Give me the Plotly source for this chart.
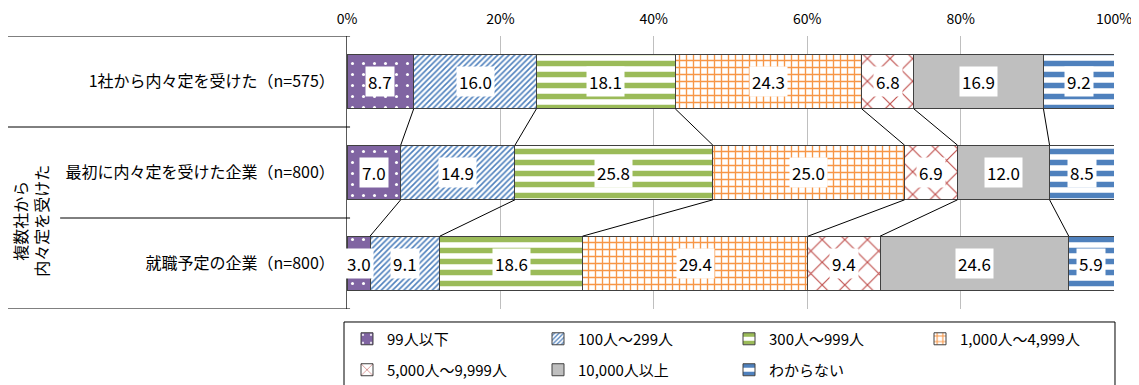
import plotly.graph_objects as go

# ---- data ----
categories = ["1社から内々定を受けた（n=575）",
              "最初に内々定を受けた企業（n=800）",
              "就職予定の企業（n=800）"]
series_names = ["99人以下", "100人～299人", "300人～999人", "1,000人～4,999人",
                "5,000人～9,999人", "10,000人以上", "わからない"]
v_99 = [8.7, 7.0, 3.0]
v_100 = [16.0, 14.9, 9.1]
v_300 = [18.1, 25.8, 18.6]
v_1000 = [24.3, 25.0, 29.4]
v_5000 = [6.8, 6.9, 9.4]
v_10000 = [16.9, 12.0, 24.6]
v_unknown = [9.2, 8.5, 5.9]
x_ticks = [0, 20, 40, 60, 80, 100]
x_tick_labels = ["0%", "20%", "40%", "60%", "80%", "100%"]
group_label = "複数社から<br>内々定を受けた"

series_values = [v_99, v_100, v_300, v_1000, v_5000, v_10000, v_unknown]

# ---- styles ----
FONT = "Noto Sans CJK JP, Noto Sans, sans-serif"
patterns = [
    dict(shape=".", bgcolor="#8064A2", fgcolor="#FFFFFF", size=11, solidity=0.06, fillmode="replace"),
    dict(shape="/", bgcolor="#FFFFFF", fgcolor="#4F81BD", size=4, solidity=0.4, fillmode="replace"),
    dict(shape="-", bgcolor="#FFFFFF", fgcolor="#9BBB59", size=11, solidity=0.5, fillmode="replace"),
    dict(shape="+", bgcolor="#FFFFFF", fgcolor="#F79646", size=7, solidity=0.35, fillmode="replace"),
    dict(shape="x", bgcolor="#FFFFFF", fgcolor="#C0504D", size=16, solidity=0.14, fillmode="replace"),
    None,
    dict(shape="-", bgcolor="#FFFFFF", fgcolor="#4F81BD", size=11, solidity=0.5, fillmode="replace"),
]
colors = ["#8064A2", "#4F81BD", "#9BBB59", "#F79646", "#C0504D", "#BFBFBF", "#4F81BD"]
legend_of = ["legend", "legend", "legend", "legend", "legend2", "legend2", "legend2"]
BAR_W = 0.6

fig = go.Figure()
for name, vals, pat, col, lg in zip(series_names, series_values, patterns, colors, legend_of):
    marker = dict(color=col, line=dict(color="#404040", width=1))
    if pat is not None:
        marker["pattern"] = pat
    fig.add_trace(go.Bar(
        name=name, y=categories, x=vals, orientation="h", legend=lg,
        marker=marker, width=BAR_W, hoverinfo="x+name"))

# cumulative positions
n_cat = len(categories)
cum = []
for ci in range(n_cat):
    acc, row = 0.0, []
    for vals in series_values:
        row.append(acc)
        acc += vals[ci]
    row.append(acc)
    cum.append(row)

# connector lines between consecutive bars
for ci in range(n_cat - 1):
    for si in range(1, len(series_values)):
        fig.add_trace(go.Scatter(
            x=[cum[ci][si], cum[ci + 1][si]],
            y=[ci + BAR_W / 2, ci + 1 - BAR_W / 2],
            xaxis="x", yaxis="y2", mode="lines",
            line=dict(color="#000000", width=1),
            showlegend=False, hoverinfo="skip"))

# value labels
annotations = []
for ci, cat in enumerate(categories):
    for si, vals in enumerate(series_values):
        annotations.append(dict(
            x=cum[ci][si] + vals[ci] / 2, y=cat, xref="x", yref="y",
            text=f"{vals[ci]:.1f}", showarrow=False,
            font=dict(family=FONT, size=17, color="#000000"),
            bgcolor="#FFFFFF", borderpad=2))

# group label
annotations.append(dict(
    x=-0.412, y=1.53, xref="paper", yref="y2", text=group_label,
    textangle=-90, showarrow=False, xanchor="center", yanchor="middle",
    font=dict(family=FONT, size=16, color="#000000")))

# separator lines on the left
shapes = []
for yv, x0 in [(-0.5, -0.442), (0.5, -0.442), (1.5, -0.374), (2.5, -0.442)]:
    shapes.append(dict(type="line", xref="paper", yref="y2", x0=x0, x1=0.004,
                       y0=yv, y1=yv, line=dict(color="#000000", width=1)))
# legend frame
shapes.append(dict(type="rect", xref="paper", yref="paper",
                   x0=-0.0039, x1=1.0013, y0=-0.33, y1=-0.0476,
                   line=dict(color="#000000", width=1), fillcolor="rgba(0,0,0,0)"))

leg_common = dict(orientation="h", xanchor="left", yanchor="middle",
                  borderwidth=0, bgcolor="rgba(0,0,0,0)",
                  entrywidth=146, entrywidthmode="pixels", traceorder="normal",
                  font=dict(family=FONT, size=15, color="#000000"))

fig.update_layout(
    width=1131, height=377,
    margin=dict(l=339, r=25, t=28, b=76, autoexpand=False),
    paper_bgcolor="#FFFFFF", plot_bgcolor="#FFFFFF",
    barmode="stack",
    font=dict(family=FONT, size=15, color="#000000"),
    xaxis=dict(range=[0, 100], side="top", tickvals=x_ticks, ticktext=x_tick_labels,
               showgrid=True, gridcolor="#BFBFBF", gridwidth=1,
               zeroline=False, showline=False, ticks="", ticklabelstandoff=8,
               tickfont=dict(family=FONT, size=14, color="#000000")),
    yaxis=dict(autorange=False, range=[2.5, -0.5], type="category",
               showline=True, linecolor="#595959", linewidth=1,
               ticks="", showgrid=False, ticklabelstandoff=8,
               tickfont=dict(family=FONT, size=16, color="#000000")),
    yaxis2=dict(overlaying="y", range=[2.5, -0.5], visible=False),
    showlegend=True,
    legend=dict(x=0.0, y=-0.11, **leg_common),
    legend2=dict(x=0.0, y=-0.2234, **leg_common),
    annotations=annotations, shapes=shapes,
    bargap=0.4,
)

fig.write_html("out.html")
